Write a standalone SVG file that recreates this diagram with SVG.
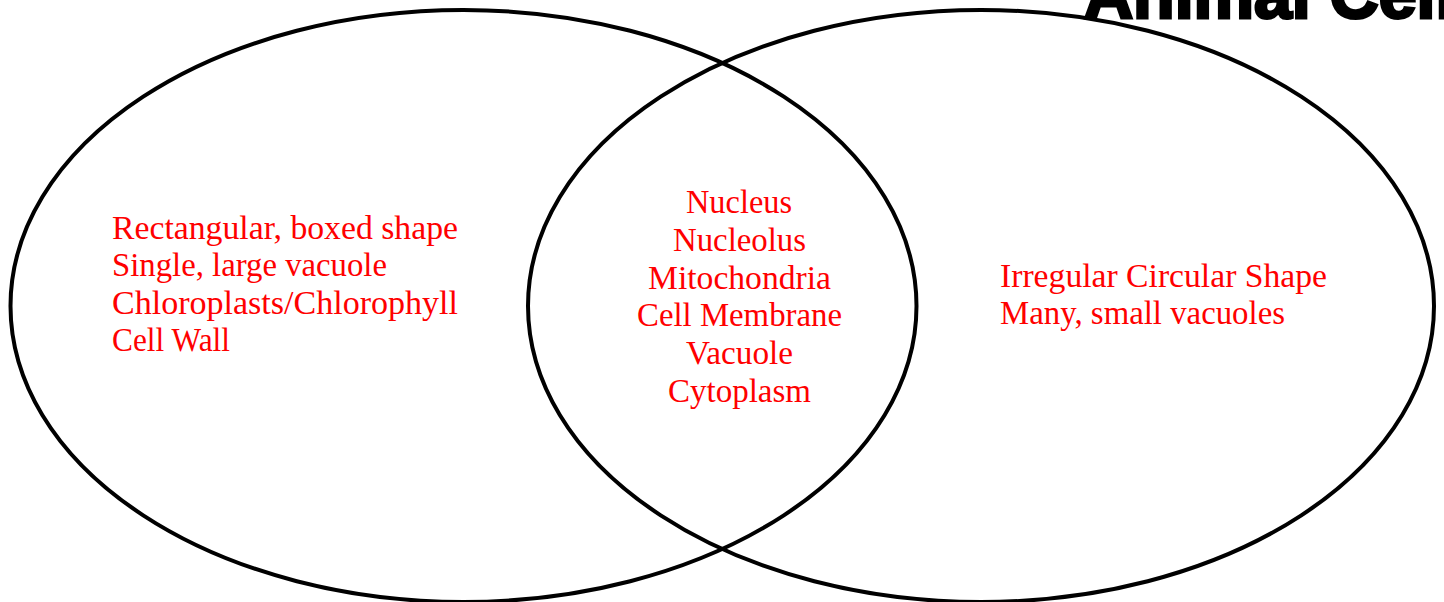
<svg xmlns="http://www.w3.org/2000/svg" width="1444" height="602" viewBox="0 0 1444 602">
<style>
.ring{fill:none;stroke:#000;stroke-width:4}
.t{font-family:"Liberation Serif","Times New Roman",serif;font-size:33px;fill:#ff0000}
.c{text-anchor:middle}
.title{font-family:"Liberation Sans",Arial,sans-serif;font-weight:bold;font-size:68px;fill:#000;stroke:#000;stroke-width:3}
</style>
<rect width="1444" height="602" fill="#fff"/>
<g id="plant-cell">
<ellipse class="ring" cx="463.5" cy="306" rx="453" ry="296"/>
<text class="t" x="112" y="239" textLength="346" lengthAdjust="spacingAndGlyphs">Rectangular, boxed shape</text>
<text class="t" x="112" y="276" textLength="275" lengthAdjust="spacingAndGlyphs">Single, large vacuole</text>
<text class="t" x="112" y="313.5" textLength="346" lengthAdjust="spacingAndGlyphs">Chloroplasts/Chlorophyll</text>
<text class="t" x="112" y="351" textLength="118" lengthAdjust="spacingAndGlyphs">Cell Wall</text>
</g>
<g id="animal-cell">
<ellipse class="ring" cx="981" cy="306" rx="453" ry="296"/>
<text class="t" x="1000" y="287" textLength="327" lengthAdjust="spacingAndGlyphs">Irregular Circular Shape</text>
<text class="t" x="1000" y="324" textLength="285" lengthAdjust="spacingAndGlyphs">Many, small vacuoles</text>
</g>
<g id="both">
<text class="t c" x="739" y="213" textLength="106" lengthAdjust="spacingAndGlyphs">Nucleus</text>
<text class="t c" x="739.5" y="251" textLength="133" lengthAdjust="spacingAndGlyphs">Nucleolus</text>
<text class="t c" x="739.5" y="289" textLength="183" lengthAdjust="spacingAndGlyphs">Mitochondria</text>
<text class="t c" x="739.5" y="326" textLength="205" lengthAdjust="spacingAndGlyphs">Cell Membrane</text>
<text class="t c" x="739.5" y="364" textLength="107" lengthAdjust="spacingAndGlyphs">Vacuole</text>
<text class="t c" x="739.5" y="402" textLength="143" lengthAdjust="spacingAndGlyphs">Cytoplasm</text>
</g>
<g id="title">
<text class="title" x="1084" y="18">Animal Cell</text>
</g>
</svg>
